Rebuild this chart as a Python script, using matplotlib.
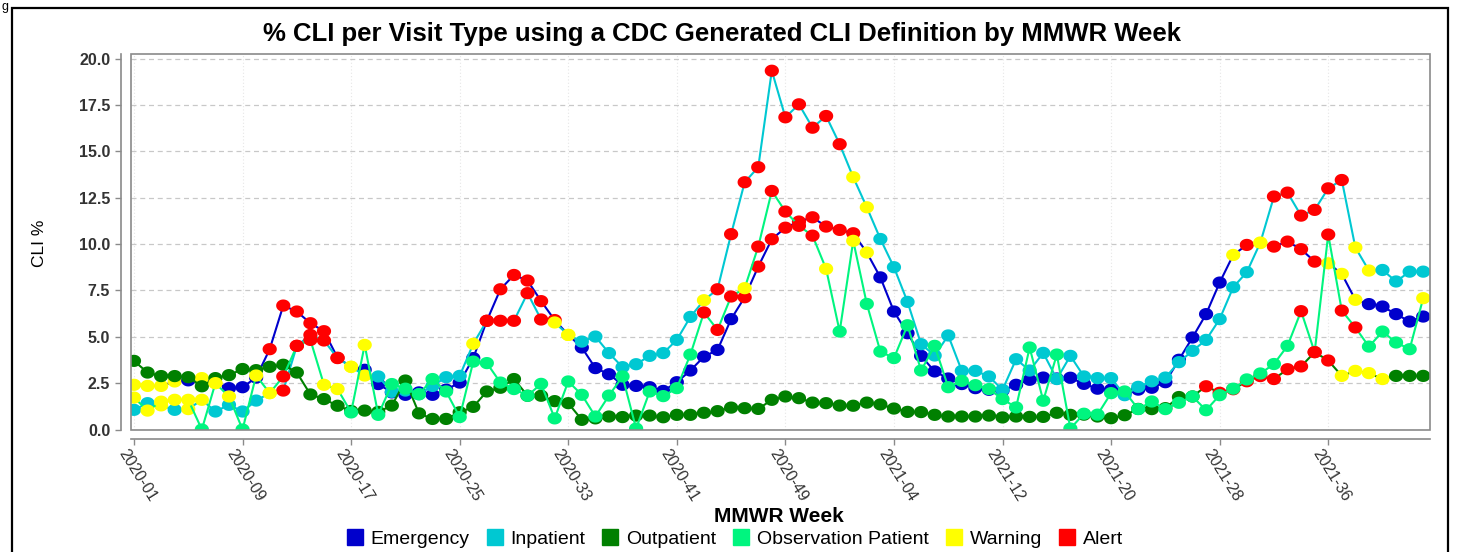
import numpy as np
import matplotlib.pyplot as plt
import matplotlib.transforms as mtransforms
from matplotlib.lines import Line2D
from matplotlib.patches import Rectangle

plt.rcParams["font.family"] = ["Liberation Sans", "DejaVu Sans"]

# MMWR weeks 2020-01 .. 2021-43 (2020 has 53 weeks)
weeks = [f"2020-{w:02d}" for w in range(1, 54)] + [f"2021-{w:02d}" for w in range(1, 44)]

emergency = [2.41, 2.35, 2.35, 2.59, 2.65, 2.77, 2.50, 2.23, 2.28, 2.80,
             4.33, 6.68, 6.36, 5.73, 5.30, 3.87, 3.38, 3.22, 2.45, 2.00,
             1.87, 2.00, 1.87, 2.15, 2.53, 3.85, 5.86, 7.56, 8.33, 8.03,
             6.92, 5.90, 5.10, 4.42, 3.31, 2.98, 2.41, 2.35, 2.28, 2.08,
             2.55, 3.18, 3.93, 4.29, 5.95, 7.13, 8.78, 10.26, 10.88, 11.21,
             11.44, 10.94, 10.76, 10.58, 9.54, 8.20, 6.36, 5.19, 3.97, 3.13,
             2.75, 2.45, 2.23, 2.14, 2.10, 2.41, 2.68, 2.80, 2.75, 2.79,
             2.46, 2.20, 2.15, 1.95, 2.15, 2.25, 2.55, 3.76, 4.96, 6.22,
             7.92, 9.41, 9.95, 10.05, 9.86, 10.13, 9.72, 9.05, 8.96, 8.39,
             6.99, 6.76, 6.63, 6.22, 5.82, 6.09]
inpatient = [1.06, 1.42, 1.30, 1.06, 1.10, 1.60, 0.97, 1.33, 0.97, 1.56,
             1.96, 2.10, 4.51, 5.10, 4.80, 3.85, 3.38, 2.91, 2.86, 2.03,
             2.10, 1.90, 2.35, 2.82, 2.89, 4.62, 5.86, 5.86, 5.86, 7.35,
             5.93, 5.77, 5.10, 4.74, 5.01, 4.12, 3.36, 3.52, 3.97, 4.12,
             4.83, 6.07, 6.97, 7.56, 10.53, 13.33, 14.14, 19.34, 16.83, 17.53,
             16.27, 16.90, 15.38, 13.60, 11.98, 10.27, 8.75, 6.88, 4.60, 3.99,
             5.07, 3.16, 3.16, 2.86, 2.14, 3.79, 3.18, 4.13, 2.72, 3.97,
             2.86, 2.77, 2.77, 1.85, 2.30, 2.60, 2.80, 3.63, 4.24, 4.83,
             5.95, 7.67, 8.48, 10.08, 12.56, 12.77, 11.53, 11.84, 13.00, 13.45,
             9.81, 8.57, 8.60, 7.98, 8.51, 8.51]
outpatient = [3.70, 3.07, 2.88, 2.88, 2.82, 2.33, 2.77, 2.93, 3.26, 3.20,
              3.38, 3.49, 3.07, 1.89, 1.64, 1.28, 1.00, 1.02, 0.95, 1.29,
              2.64, 0.87, 0.57, 0.57, 0.93, 1.22, 2.05, 2.25, 2.72, 1.82,
              1.82, 1.53, 1.42, 0.52, 0.60, 0.70, 0.67, 0.75, 0.75, 0.66,
              0.79, 0.79, 0.90, 0.99, 1.18, 1.15, 1.11, 1.60, 1.78, 1.69,
              1.45, 1.42, 1.29, 1.28, 1.45, 1.35, 1.13, 0.95, 0.94, 0.79,
              0.70, 0.70, 0.70, 0.75, 0.65, 0.70, 0.68, 0.68, 0.90, 0.79,
              0.80, 0.70, 0.61, 0.77, 1.11, 1.10, 1.15, 1.75, 1.78, 2.33,
              1.98, 2.17, 2.60, 2.88, 2.72, 3.25, 3.40, 4.17, 3.72, 2.89,
              3.16, 3.04, 2.72, 2.89, 2.89, 2.89]
observation = [1.72, 1.02, 1.50, 1.60, 1.60, 0.00, 2.50, 1.78, 0.00, 2.91,
               1.96, 2.86, 4.51, 4.83, 2.41, 2.18, 0.92, 4.56, 0.79, 2.45,
               2.20, 1.90, 2.72, 2.05, 0.67, 3.66, 3.58, 2.53, 2.18, 1.82,
               2.46, 0.60, 2.59, 1.87, 0.70, 1.83, 2.86, 0.05, 2.05, 1.80,
               2.23, 4.04, 6.31, 5.37, 7.17, 7.62, 9.86, 12.86, 11.75, 10.98,
               10.45, 8.66, 5.28, 10.17, 6.77, 4.20, 3.85, 5.62, 3.18, 4.51,
               2.28, 2.62, 2.39, 2.18, 1.64, 1.19, 4.42, 1.55, 4.04, 0.05,
               0.85, 0.80, 1.96, 2.05, 1.10, 1.51, 1.10, 1.44, 1.78, 1.04,
               1.85, 2.20, 2.70, 3.02, 3.53, 4.51, 6.38, 4.17, 10.51, 6.41,
               5.50, 4.47, 5.28, 4.69, 4.33, 7.08]

# week indices flagged as Warning / Alert for each visit type
emergency_warn = [0, 1, 2, 3, 5, 6, 16, 32, 54, 81, 83, 88, 89, 90]
emergency_alert = [10, 11, 12, 13, 14, 15, 26, 27, 28, 29, 30, 31, 45, 46, 47, 48,
                   49, 50, 51, 52, 53, 82, 84, 85, 86, 87]
inpatient_warn = [2, 4, 5, 10, 16, 17, 25, 31, 32, 42, 53, 54, 83, 90, 91]
inpatient_alert = [11, 12, 13, 14, 15, 26, 27, 28, 29, 30, 43, 44, 45, 46, 47, 48,
                   49, 50, 51, 52, 84, 85, 86, 87, 88, 89]
outpatient_warn = [89, 90, 91, 92]
outpatient_alert = [79, 80, 81, 82, 83, 84, 85, 86, 87, 88]
observation_warn = [0, 1, 2, 3, 4, 6, 7, 9, 10, 14, 15, 17, 45, 51, 53, 95]
observation_alert = [11, 12, 13, 42, 43, 44, 46, 47, 48, 49, 50, 86, 87, 88, 89, 90]

labels = ["Emergency", "Inpatient", "Outpatient", "Observation Patient", "Warning", "Alert"]
colors = ["#0000CC", "#00C8D2", "#008000", "#00F57F", "#FFFF00", "#FF0000"]

series = [
    (emergency, emergency_warn, emergency_alert),
    (inpatient, inpatient_warn, inpatient_alert),
    (outpatient, outpatient_warn, outpatient_alert),
    (observation, observation_warn, observation_alert),
]

fig = plt.figure(figsize=(14.73, 5.52), dpi=100)
ax = fig.add_axes([131 / 1473, 1 - 429.5 / 552, (1430 - 131) / 1473, (429.5 - 53.5) / 552])

# slightly flattened round markers
t = np.linspace(0, 2 * np.pi, 40)
ellipse = np.column_stack([np.cos(t), 0.86 * np.sin(t)])

x = np.arange(len(weeks))
for k, (vals, warn, alert) in enumerate(series):
    z = 3 + k
    ax.plot(x, vals, color=colors[k], lw=1.5, zorder=z)
    pt_colors = [colors[k]] * len(vals)
    for i in warn:
        pt_colors[i] = colors[4]
    for i in alert:
        pt_colors[i] = colors[5]
    ax.scatter(x, vals, s=105, c=pt_colors, marker=ellipse, edgecolors="none", zorder=z + 0.5)

ax.set_xlim(-0.22, 95.5)
ax.set_ylim(0, 20.27)
yt = np.arange(0, 20.1, 2.5)
ax.set_yticks(yt)
ax.set_yticklabels([f"{v:.1f}" for v in yt])
ax.set_xticks(x[::8])
ax.set_xticklabels(weeks[::8])

ax.grid(axis="y", color="#c8c8c8", linestyle=(0, (4, 3)), lw=0.9)
ax.grid(axis="x", color="#e6e6e6", linestyle=(0, (1, 2)), lw=0.8)
ax.set_axisbelow(True)

for s in ["top", "right"]:
    ax.spines[s].set_visible(False)
for s in ["left", "bottom"]:
    ax.spines[s].set_position(("outward", 7))
    ax.spines[s].set_color("#8a8a8a")
    ax.spines[s].set_linewidth(1.2)
ax.add_patch(Rectangle((0, 0), 1, 1, transform=ax.transAxes, fill=False,
                       edgecolor="#8a8a8a", lw=1.2, clip_on=False, zorder=10))
ax.tick_params(axis="both", colors="#8a8a8a", length=4, width=1, labelcolor="#333333")
ax.tick_params(axis="y", labelsize=11.5, pad=4)
ax.tick_params(axis="x", labelsize=11.5, pad=1)
plt.setp(ax.get_yticklabels(), fontweight="bold")
plt.setp(ax.get_xticklabels(), rotation=-58, ha="left", va="top", rotation_mode="anchor")
# nudge the rotated week labels a little to the left of their ticks
shift = mtransforms.ScaledTranslation(-6 / 100, 0, fig.dpi_scale_trans)
for lab in ax.get_xticklabels():
    lab.set_transform(lab.get_transform() + shift)

fig.text(0.5 * (237 + 1207) / 1473, 1 - 34 / 552,
         "% CLI per Visit Type using a CDC Generated CLI Definition by MMWR Week",
         ha="center", va="center", fontsize=18.5, fontweight="bold")
fig.text(40 / 1473, 1 - 243 / 552, "CLI %", rotation=90, ha="center", va="center", fontsize=12.5)
fig.text(779 / 1473, 1 - 516 / 552, "MMWR Week", ha="center", va="center",
         fontsize=15, fontweight="bold")

handles = [Line2D([], [], marker="s", linestyle="none", markersize=11, color=c) for c in colors]
fig.legend(handles, labels, loc="center", bbox_to_anchor=(735 / 1473, 1 - 539 / 552), ncol=6,
           frameon=False, fontsize=14, handlelength=0.8, handletextpad=0.4, columnspacing=0.9,
           borderaxespad=0)

# outer frame of the figure panel
fig.add_artist(Rectangle((12 / 1473, -0.05), (1448 - 12) / 1473, 1.05 - 8 / 552,
                         transform=fig.transFigure, fill=False, edgecolor="black", lw=1.6))
fig.text(0.001, 0.999, "g", ha="left", va="top", fontsize=9)

fig.savefig("out.png", dpi=100)
